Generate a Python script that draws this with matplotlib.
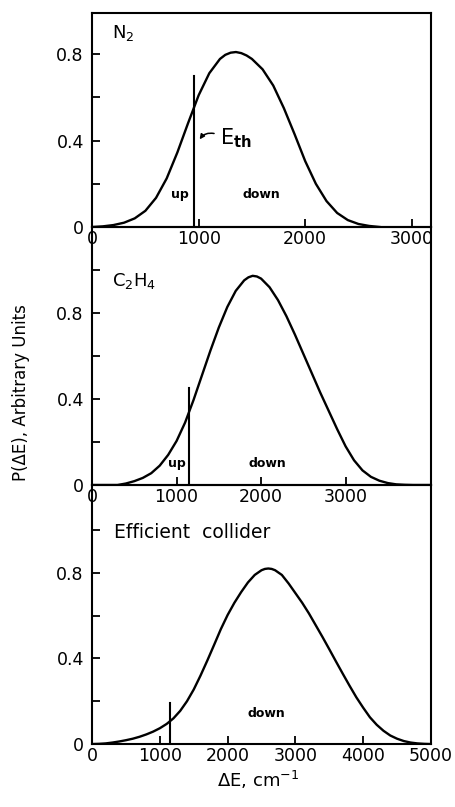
import matplotlib
matplotlib.use("Agg")
import matplotlib.pyplot as plt
from matplotlib.ticker import FixedLocator

plt.rcParams["font.family"] = ["DejaVu Sans"]

# N2 panel
n2_de = [0, 100, 200, 300, 400, 500, 600, 700, 800, 900, 1000, 1100, 1200, 1250,
         1300, 1350, 1400, 1450, 1500, 1600, 1700, 1800, 1900, 2000, 2100, 2200,
         2300, 2400, 2500, 2600, 2700]
n2_p = [0.0, 0.003, 0.009, 0.02, 0.04, 0.075, 0.135, 0.225, 0.345, 0.48, 0.61,
        0.712, 0.778, 0.797, 0.807, 0.81, 0.805, 0.794, 0.778, 0.73, 0.655, 0.55,
        0.43, 0.305, 0.20, 0.12, 0.065, 0.032, 0.014, 0.005, 0.0]
n2_eth = 960
n2_eth_top = 0.70

# C2H4 panel
c2h4_de = [0, 300, 400, 500, 600, 700, 800, 900, 1000, 1100, 1200, 1300, 1400,
           1500, 1600, 1700, 1800, 1850, 1900, 1950, 2000, 2100, 2200, 2300, 2400,
           2500, 2600, 2700, 2800, 2900, 3000, 3100, 3200, 3300, 3400, 3500, 3600,
           3700, 3800, 4000]
c2h4_p = [0.0, 0.0, 0.007, 0.018, 0.033, 0.055, 0.09, 0.14, 0.205, 0.29, 0.395,
          0.51, 0.625, 0.733, 0.828, 0.903, 0.952, 0.966, 0.973, 0.97, 0.96, 0.92,
          0.86, 0.785, 0.70, 0.61, 0.52, 0.43, 0.345, 0.26, 0.18, 0.115, 0.068,
          0.038, 0.02, 0.009, 0.003, 0.001, 0.0, 0.0]
c2h4_eth = 1150
c2h4_eth_top = 0.45

# efficient collider panel
eff_de = [0, 100, 200, 300, 400, 500, 600, 700, 800, 900, 1000, 1100, 1200, 1300,
          1400, 1500, 1600, 1700, 1800, 1900, 2000, 2100, 2200, 2300, 2400, 2500,
          2550, 2600, 2650, 2700, 2800, 2900, 3000, 3100, 3200, 3300, 3400, 3500,
          3600, 3700, 3800, 3900, 4000, 4100, 4200, 4300, 4400, 4500, 4600, 4700,
          4800, 4900, 5000]
eff_p = [0.0, 0.001, 0.003, 0.007, 0.012, 0.018, 0.025, 0.034, 0.045, 0.058, 0.074,
         0.094, 0.12, 0.155, 0.20, 0.255, 0.32, 0.39, 0.463, 0.537, 0.603, 0.66,
         0.71, 0.755, 0.79, 0.812, 0.818, 0.82, 0.818, 0.812, 0.79, 0.75, 0.705,
         0.66, 0.61, 0.555, 0.50, 0.443, 0.385, 0.328, 0.272, 0.218, 0.17, 0.125,
         0.09, 0.062, 0.04, 0.025, 0.014, 0.007, 0.003, 0.001, 0.0]
eff_eth = 1150
eff_eth_top = 0.19

fig = plt.figure(figsize=(4.56, 8.07), dpi=100)
left, width = 0.202, 0.743


def draw_panel(rect, de, p, eth, eth_top, xmax, ymax, xticks, yminor):
    ax = fig.add_axes(rect)
    ax.patch.set_visible(False)
    ax.plot(de, p, color="black", lw=1.7, solid_joinstyle="round")
    ax.plot([eth, eth], [0, eth_top], color="black", lw=1.5)
    ax.set_xlim(0, xmax)
    ax.set_ylim(0, ymax)
    ax.set_xticks(xticks)
    ax.set_xticklabels([str(t) for t in xticks])
    ax.set_yticks([0, 0.4, 0.8])
    ax.set_yticklabels(["0", "0.4", "0.8"])
    ax.yaxis.set_minor_locator(FixedLocator(yminor))
    ax.tick_params(axis="both", which="both", direction="in", length=6,
                   width=1.3, labelsize=12.5, colors="black")
    ax.tick_params(axis="x", pad=2)
    ax.tick_params(axis="y", pad=6)
    for s in ax.spines.values():
        s.set_linewidth(1.5)
    return ax


ax1 = draw_panel([left, 0.7187, width, 0.265], n2_de, n2_p, n2_eth, n2_eth_top,
                 3180, 0.99, [0, 1000, 2000, 3000], [0.2, 0.6])
ax1.text(190, 0.90, "N$_\\mathregular{2}$", fontsize=13, va="center")
ax1.text(820, 0.15, "up", fontsize=9, fontweight="bold", ha="center", va="center")
ax1.text(1590, 0.15, "down", fontsize=9, fontweight="bold", ha="center", va="center")
ax1.annotate("", xy=(995, 0.395), xytext=(1170, 0.43),
             arrowprops=dict(arrowstyle="-|>", color="black", lw=1.1,
                             mutation_scale=7,
                             connectionstyle="arc3,rad=0.4"))
ax1.text(1200, 0.41, "E$_{\\mathbf{th}}$", fontsize=15, va="center")

ax2 = draw_panel([left, 0.399, width, 0.3197], c2h4_de, c2h4_p, c2h4_eth,
                 c2h4_eth_top, 4010, 1.2, [0, 1000, 2000, 3000], [0.2, 0.6, 1.0])
ax2.text(237, 0.95, "C$_\\mathregular{2}$H$_\\mathregular{4}$", fontsize=13,
         va="center")
ax2.text(1000, 0.10, "up", fontsize=9, fontweight="bold", ha="center", va="center")
ax2.text(2070, 0.10, "down", fontsize=9, fontweight="bold", ha="center", va="center")

ax3 = draw_panel([left, 0.078, width, 0.321], eff_de, eff_p, eff_eth, eff_eth_top,
                 5000, 1.21, [0, 1000, 2000, 3000, 4000, 5000], [0.2, 0.6, 1.0])
ax3.text(330, 0.99, "Efficient  collider", fontsize=13.5, va="center")
ax3.text(2570, 0.145, "down", fontsize=9, fontweight="bold", ha="center",
         va="center")

fig.text(0.045, 0.513, "P(\u0394E), Arbitrary Units", rotation=90, fontsize=12,
         ha="center", va="center")
fig.text(0.565, 0.033, "\u0394E, cm$^\\mathregular{-1}$", fontsize=13,
         ha="center", va="center")

plt.savefig("out.png", dpi=100)
plt.close()
